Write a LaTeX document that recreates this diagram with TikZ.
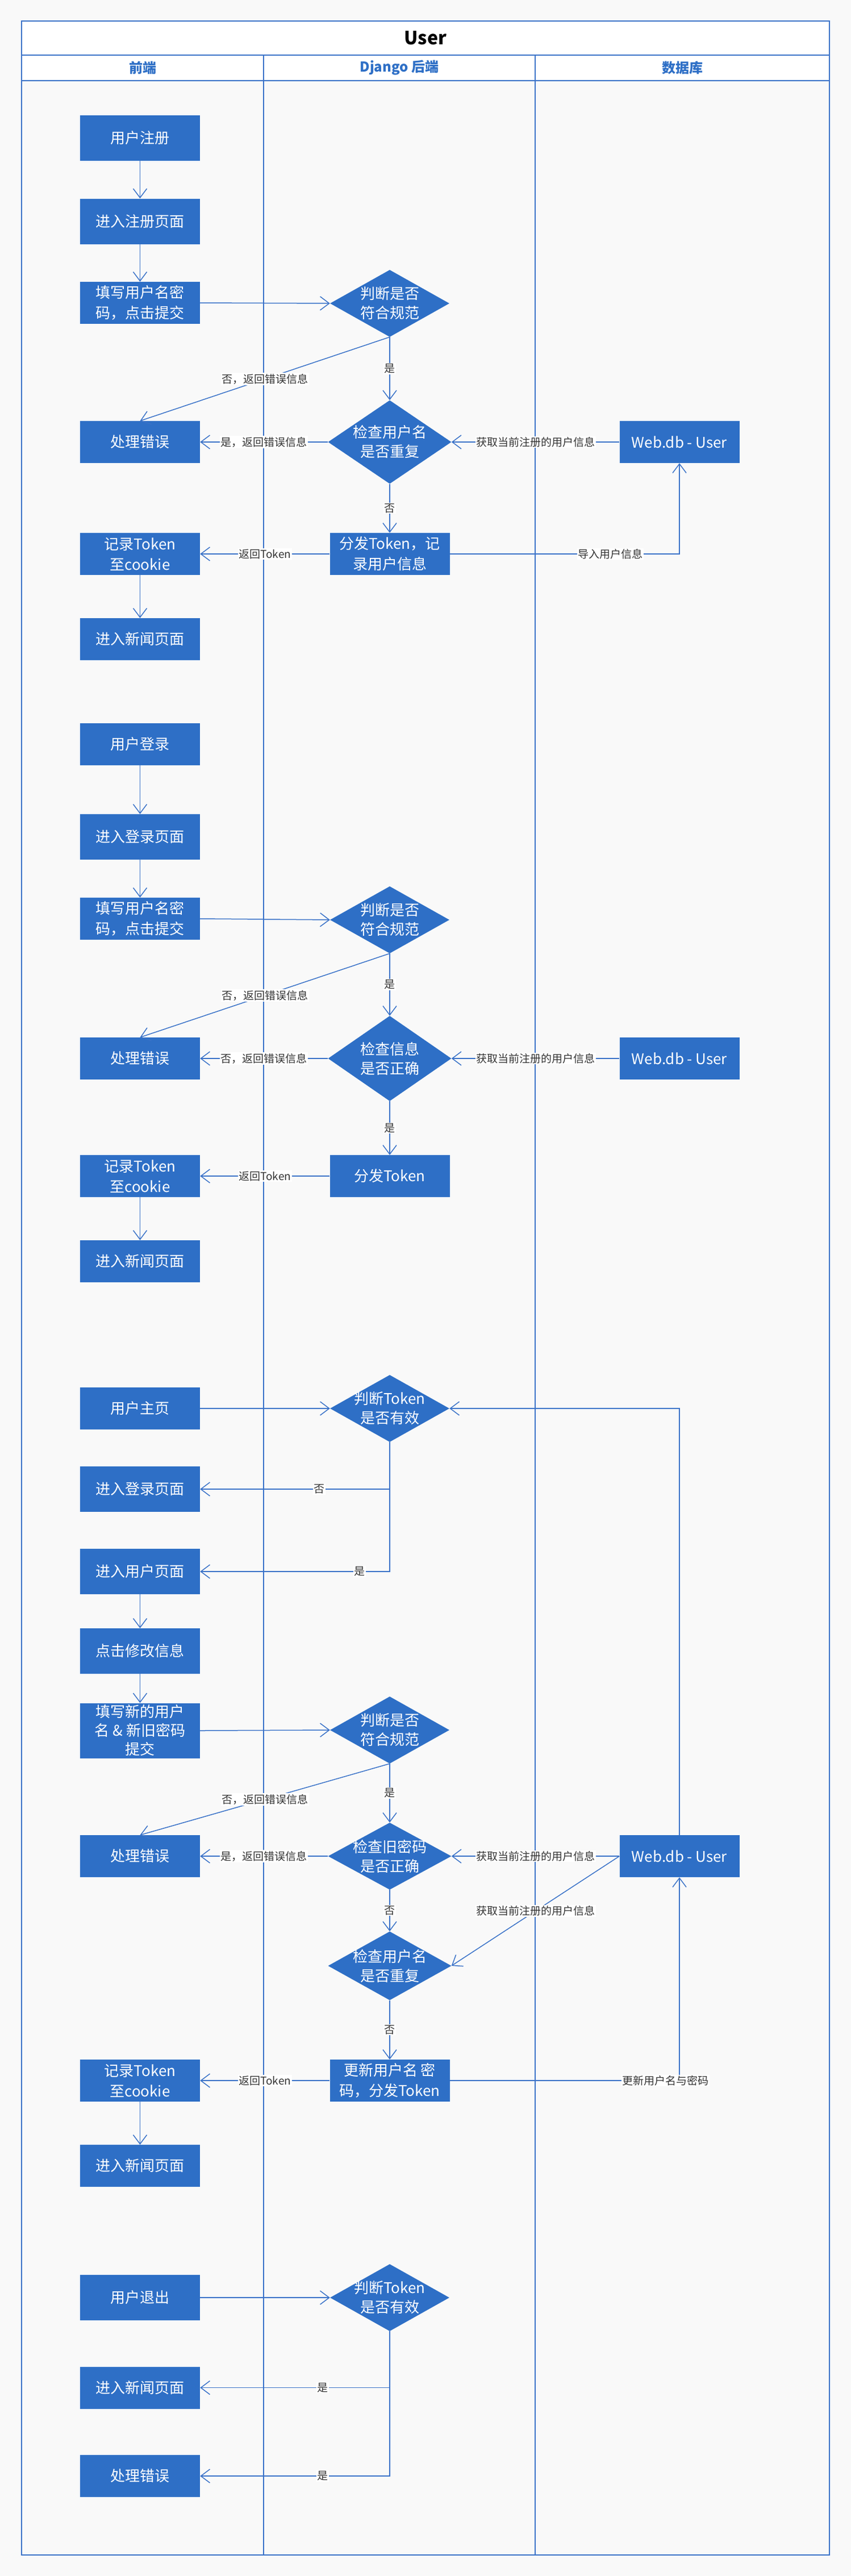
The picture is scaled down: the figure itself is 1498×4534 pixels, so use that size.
\documentclass[tikz,border=0pt]{standalone}
\usepackage{fontspec}
\setmainfont{Noto Sans CJK SC}
\usetikzlibrary{shapes.geometric,arrows.meta}
\definecolor{boxblue}{RGB}{46,111,198}
\definecolor{lineblue}{RGB}{58,114,200}
\definecolor{bgc}{RGB}{249,249,249}
\definecolor{lblc}{RGB}{51,51,51}
\newcommand{\fwc}{\char"FF0C\relax}
\begin{document}
\begin{tikzpicture}[x=1pt,y=-1pt,
  box/.style={rectangle, fill=boxblue, text=white, minimum width=211pt, minimum height=74pt, inner sep=0pt, align=center, font=\fontsize{26}{36}\selectfont},
  tbox/.style={box, minimum height=80pt},
  dia/.style={diamond, fill=boxblue, inner sep=0pt},
  dtext/.style={text=white, align=center, font=\fontsize{26}{34}\selectfont, inner sep=0pt},
  lbl/.style={fill=white, text=lblc, font=\fontsize{19}{22}\selectfont, inner sep=1.5pt},
  arr/.style={draw=lineblue, line width=1.5pt, -{Straight Barb[length=16pt,width=24pt]}},
  lane/.style={draw=lineblue, line width=1.5pt},
  hdr/.style={text=boxblue, font=\bfseries\fontsize{24}{28}\selectfont}
]
\fill[bgc] (0,0) rectangle (1498,4534);
\useasboundingbox (0,0) rectangle (1498,4534);
\fill[white] (38,37) rectangle (1460,142);
\draw[lane] (38,37) rectangle (1460,4497);
\draw[lane, line width=2.5pt] (38,37) -- (1460,37);
\draw[lane, line width=2.5pt] (38,97) -- (1460,97);
\draw[lane, line width=2.5pt] (38,142) -- (1460,142);
\draw[lane, line width=2.5pt] (38,4497) -- (1460,4497);
\draw[lane] (464,97) -- (464,4497);
\draw[lane] (942,97) -- (942,4497);

\node[font=\bfseries\fontsize{32}{38}\selectfont] (title) at (749,67) {User};
\node[hdr] (hd1) at (251,119.5) {前端};
\node[hdr] (hd2) at (703,119.5) {Django 后端};
\node[hdr] (hd3) at (1201,119.5) {数据库};

% Section 1: register
\node[tbox] (r1) at (246.5,242.5) {用户注册};
\node[tbox] (r2) at (246.5,389.5) {进入注册页面};
\node[box] (r3) at (246.5,533) {填写用户名密\\码\fwc 点击提交};
\node[dia, minimum width=210pt, minimum height=118pt, label={[dtext]center:{判断是否\\符合规范}}] (d1) at (686,534) {};
\node[box] (e1) at (246.5,778) {处理错误};
\node[dia, minimum width=217pt, minimum height=147pt, label={[dtext]center:{检查用户名\\是否重复}}] (d2) at (686,778) {};
\node[box] (w1) at (1196,778) {Web.db - User};
\node[box] (t1) at (686,975) {分发Token\fwc 记\\录用户信息};
\node[box] (k1) at (246.5,975) {记录Token\\至cookie};
\node[box] (n1) at (246.5,1125) {进入新闻页面};

\draw[arr] (r1) -- (r2);
\draw[arr] (r2) -- (r3);
\draw[arr] (r3.east) -- (d1.west);
\draw[arr] (d1.south) -- node[lbl]{否\fwc 返回错误信息} (e1.north);
\draw[arr] (d1.south) -- node[lbl]{是} (d2.north);
\draw[arr] (d2.west) -- node[lbl]{是\fwc 返回错误信息} (e1.east);
\draw[arr] (w1.west) -- node[lbl]{获取当前注册的用户信息} (d2.east);
\draw[arr] (d2.south) -- node[lbl]{否} (t1.north);
\draw[arr] (t1.west) -- node[lbl]{返回Token} (k1.east);
\draw[arr] (t1.east) -| node[lbl,pos=0.35]{导入用户信息} (w1.south);
\draw[arr] (k1) -- (n1);

% Section 2: login
\node[box] (l1) at (246.5,1310) {用户登录};
\node[tbox] (l2) at (246.5,1473) {进入登录页面};
\node[box] (l3) at (246.5,1617) {填写用户名密\\码\fwc 点击提交};
\node[dia, minimum width=210pt, minimum height=118pt, label={[dtext]center:{判断是否\\符合规范}}] (d3) at (686,1619) {};
\node[box] (e2) at (246.5,1863) {处理错误};
\node[dia, minimum width=217pt, minimum height=150pt, label={[dtext]center:{检查信息\\是否正确}}] (d4) at (686,1863) {};
\node[box] (w2) at (1196,1863) {Web.db - User};
\node[box] (t2) at (686,2070) {分发Token};
\node[box] (k2) at (246.5,2070) {记录Token\\至cookie};
\node[box] (n2) at (246.5,2220) {进入新闻页面};

\draw[arr] (l1) -- (l2);
\draw[arr] (l2) -- (l3);
\draw[arr] (l3.east) -- (d3.west);
\draw[arr] (d3.south) -- node[lbl]{否\fwc 返回错误信息} (e2.north);
\draw[arr] (d3.south) -- node[lbl]{是} (d4.north);
\draw[arr] (d4.west) -- node[lbl]{否\fwc 返回错误信息} (e2.east);
\draw[arr] (w2.west) -- node[lbl]{获取当前注册的用户信息} (d4.east);
\draw[arr] (d4.south) -- node[lbl]{是} (t2.north);
\draw[arr] (t2.west) -- node[lbl]{返回Token} (k2.east);
\draw[arr] (k2) -- (n2);

% Section 3: profile
\node[box] (h1) at (246.5,2479) {用户主页};
\node[dia, minimum width=210pt, minimum height=118pt, label={[dtext]center:{判断Token\\是否有效}}] (d5) at (686,2479) {};
\node[tbox] (p1) at (246.5,2621) {进入登录页面};
\node[tbox] (u1) at (246.5,2766) {进入用户页面};
\node[tbox] (c1) at (246.5,2906) {点击修改信息};
\node[box, minimum height=97pt, font=\fontsize{26}{33}\selectfont] (f1) at (246.5,3046) {填写新的用户\\名 \& 新旧密码\\提交};
\node[dia, minimum width=210pt, minimum height=118pt, label={[dtext]center:{判断是否\\符合规范}}] (d6) at (686,3045) {};
\node[box] (e3) at (246.5,3267) {处理错误};
\node[dia, minimum width=217pt, minimum height=118pt, label={[dtext]center:{检查旧密码\\是否正确}}] (d7) at (686,3267) {};
\node[box] (w3) at (1196,3267) {Web.db - User};
\node[dia, minimum width=217pt, minimum height=121pt, label={[dtext]center:{检查用户名\\是否重复}}] (d8) at (686,3460) {};
\node[box] (t3) at (686,3662) {更新用户名 密\\码\fwc 分发Token};
\node[box] (k3) at (246.5,3662) {记录Token\\至cookie};
\node[box] (n3) at (246.5,3812) {进入新闻页面};

\draw[arr] (h1.east) -- (d5.west);
\draw[arr] (w3.north) |- (d5.east);
\draw[arr] (d5.south) |- node[lbl,pos=0.686]{否} (p1.east);
\draw[arr] (d5.south) |- node[lbl,pos=0.579]{是} (u1.east);
\draw[arr] (u1) -- (c1);
\draw[arr] (c1) -- (f1);
\draw[arr] (f1.east) -- (d6.west);
\draw[arr] (d6.south) -- node[lbl]{否\fwc 返回错误信息} (e3.north);
\draw[arr] (d6.south) -- node[lbl]{是} (d7.north);
\draw[arr] (d7.west) -- node[lbl]{是\fwc 返回错误信息} (e3.east);
\draw[arr] (w3.west) -- node[lbl]{获取当前注册的用户信息} (d7.east);
\draw[arr] (w3.west) -- node[lbl]{获取当前注册的用户信息} (d8.east);
\draw[arr] (d7.south) -- node[lbl]{否} (d8.north);
\draw[arr] (d8.south) -- node[lbl]{否} (t3.north);
\draw[arr] (t3.west) -- node[lbl]{返回Token} (k3.east);
\draw[arr] (t3.east) -| node[lbl,pos=0.47]{更新用户名与密码} (w3.south);
\draw[arr] (k3) -- (n3);

% Section 4: logout
\node[tbox] (o1) at (246.5,4044) {用户退出};
\node[dia, minimum width=210pt, minimum height=118pt, label={[dtext]center:{判断Token\\是否有效}}] (d9) at (686,4044) {};
\node[box] (n4) at (246.5,4202.5) {进入新闻页面};
\node[box] (e4) at (246.5,4358) {处理错误};

\draw[arr] (o1.east) -- (d9.west);
\draw[arr] (d9.south) |- node[lbl,pos=0.677]{是} (n4.east);
\draw[arr] (d9.south) |- node[lbl,pos=0.677]{是} (e4.east);
\end{tikzpicture}
\end{document}
